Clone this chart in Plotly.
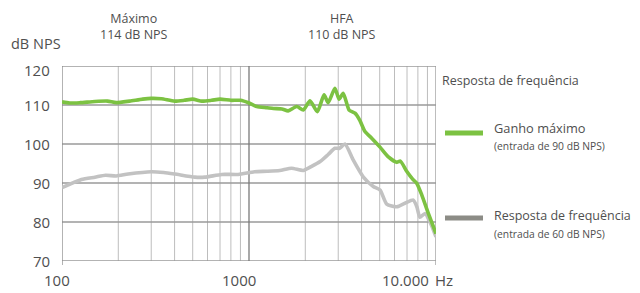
import plotly.graph_objects as go

# ---- data ----
freq_gain = [100, 110, 125, 150, 175, 195, 230, 270, 300, 340, 400, 450, 500, 560, 630, 700, 800, 900,
             1000, 1100, 1250, 1350, 1500, 1620, 1800, 1950, 2120, 2320, 2520, 2650, 2880, 3030, 3190,
             3430, 3690, 3920, 4170, 4530, 5020, 5560, 6170, 6450, 6970, 7500, 7900, 8400, 9100, 10000]
gain_max = [110.8, 110.5, 110.6, 110.9, 111.0, 110.6, 111.0, 111.5, 111.7, 111.6, 111.0, 111.2, 111.5,
            111.0, 111.2, 111.5, 111.2, 111.2, 110.5, 109.6, 109.3, 109.1, 109.0, 108.5, 109.6, 108.7,
            111.1, 108.3, 112.6, 110.6, 114.3, 111.5, 113.0, 108.7, 107.9, 106.0, 103.2, 101.5, 99.2,
            96.7, 95.3, 95.6, 93.0, 91.0, 89.9, 86.9, 82.2, 77.0]

freq_resp = [100, 127, 150, 171, 195, 226, 300, 350, 402, 514, 580, 715, 875, 1070, 1250, 1460, 1690,
             1950, 2150, 2400, 2650, 2880, 3050, 3260, 3610, 4080, 4620, 5020, 5450, 6170, 6820, 7560,
             7900, 8200, 8730, 9450, 10000]
resp = [88.8, 90.9, 91.5, 92.0, 91.8, 92.3, 92.9, 92.7, 92.3, 91.5, 91.5, 92.2, 92.2, 92.9, 93.0, 93.2,
        93.8, 93.2, 94.2, 95.5, 97.3, 98.9, 98.9, 100.0, 95.9, 91.6, 89.1, 88.2, 84.6, 83.9, 84.8, 85.6,
        83.9, 81.2, 82.2, 79.2, 76.2]

y_ticks = [70, 80, 90, 100, 110, 120]
x_labels = ["100", "1000", "10.000"]
series_names = ["Ganho máximo", "Resposta de frequência"]
series_notes = ["(entrada de 90 dB NPS)", "(entrada de 60 dB NPS)"]
header_labels = ["Máximo<br>114 dB NPS", "HFA<br>110 dB NPS"]

GREEN = "#7cc242"
GRAY_LINE = "#c2c2c2"
GRAY_LEG = "#8c8c86"
TXT = "#4f4f4f"
FONT = "Open Sans"

# page body has an 8px margin; work in window pixels and shift
OFF = 8
W, H = 640 - OFF, 293 - OFF
L, R, T, B = 62 - OFF, 436 - OFF, 66 - OFF, 261 - OFF


def px(x):
    return (x - OFF - L) / (R - L)


def py(y):
    return (B - (y - OFF)) / (B - T)


fig = go.Figure()
fig.add_trace(go.Scatter(x=freq_resp, y=resp, mode="lines",
                         line=dict(color=GRAY_LINE, width=3.6, shape="spline", smoothing=0.6),
                         name=series_names[1], showlegend=False, hoverinfo="skip"))
fig.add_trace(go.Scatter(x=freq_gain, y=gain_max, mode="lines",
                         line=dict(color=GREEN, width=3.6, shape="spline", smoothing=0.6),
                         name=series_names[0], showlegend=False, hoverinfo="skip"))

minor = [m * 10 ** d for d in (2, 3) for m in range(2, 10)]
shapes = []
for f in minor:
    shapes.append(dict(type="line", xref="x", yref="paper", x0=f, x1=f, y0=0, y1=1,
                       line=dict(color="#bdbdbd", width=1), layer="below"))
for v in y_ticks:
    shapes.append(dict(type="line", xref="paper", yref="y", x0=0, x1=1, y0=v, y1=v,
                       line=dict(color="#9a9a9a", width=1.3), layer="below"))
shapes.append(dict(type="line", xref="x", yref="paper", x0=1000, x1=1000, y0=0, y1=1,
                   line=dict(color="#7a7a7a", width=1.3), layer="below"))
# left axis and right border with small ticks below
shapes.append(dict(type="line", xref="x", yref="paper", x0=100, x1=100, y0=py(265), y1=1,
                   line=dict(color="#8a8a8a", width=1.3), layer="below"))
shapes.append(dict(type="line", xref="x", yref="paper", x0=10000, x1=10000, y0=py(265), y1=1,
                   line=dict(color="#9a9a9a", width=1.3), layer="below"))
# legend swatches
shapes.append(dict(type="line", xref="paper", yref="paper", x0=px(445), x1=px(483), y0=py(133), y1=py(133),
                   line=dict(color=GREEN, width=5)))
shapes.append(dict(type="line", xref="paper", yref="paper", x0=px(445), x1=px(483), y0=py(218), y1=py(218),
                   line=dict(color=GRAY_LEG, width=5)))

ann = []


def add(text, x, y, size, xanchor="center", yanchor="middle"):
    ann.append(dict(text=text, x=px(x), y=py(y), xref="paper", yref="paper", showarrow=False,
                    xanchor=xanchor, yanchor=yanchor, font=dict(family=FONT, size=size, color=TXT)))


add("dB NPS", 36, 43, 14.5)
add(header_labels[0], 134, 8, 12.5, yanchor="top")
add(header_labels[1], 342, 8, 12.5, yanchor="top")
add("Resposta de frequência", 440, 81, 12.5, "left")
add(series_names[0], 492, 128, 12.8, "left")
add(series_notes[0], 492, 146, 10.3, "left")
add(series_names[1], 492, 215, 12.5, "left")
add(series_notes[1], 492, 234, 10.3, "left")
for v in y_ticks:
    yy = 261 - (v - 70) / 50 * (261 - 66)
    add(str(v), 52, yy + (4 if v == 120 else 0), 15, "right")
for lab, xc in zip(x_labels, [57, 239, 405]):
    add(lab, xc, 280, 15)
add("Hz", 444, 280, 15)

fig.update_layout(
    width=W, height=H, margin=dict(l=L, r=W - R, t=T, b=H - B),
    paper_bgcolor="white", plot_bgcolor="white",
    xaxis=dict(type="log", range=[2, 4], showgrid=False, showticklabels=False, zeroline=False,
               showline=False, ticks=""),
    yaxis=dict(range=[70, 120], showgrid=False, showticklabels=False, zeroline=False,
               showline=False, ticks=""),
    shapes=shapes, annotations=ann, showlegend=False,
)
fig.write_html("out.html")
